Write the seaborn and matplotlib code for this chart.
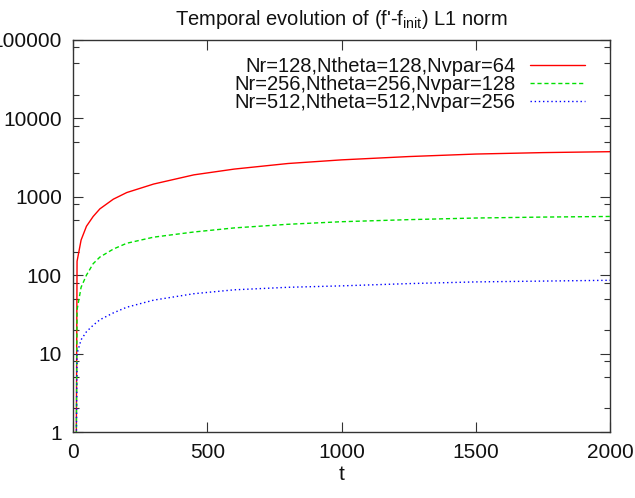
import numpy as np
import pandas as pd
import seaborn as sns
import matplotlib
matplotlib.use("Agg")
import matplotlib.pyplot as plt
from matplotlib.ticker import LogLocator, NullFormatter, FixedLocator

# values (log y axis)
t_values = [12, 15, 30, 50, 75, 100, 150, 200, 300, 450, 600, 800, 1000, 1250, 1500, 1750, 2000]
l1_128 = [0.5, 150, 280, 420, 560, 700, 930, 1130, 1450, 1900, 2250, 2650, 2950, 3250, 3500, 3650, 3750]
l1_256 = [0.5, 36, 70, 100, 140, 170, 215, 255, 305, 355, 400, 445, 480, 510, 535, 550, 560]
l1_512 = [0.5, 10, 15, 19, 23, 27, 33, 39, 48, 58, 65, 70, 73, 78, 82, 84, 86]

labels = ["Nr=128,Ntheta=128,Nvpar=64",
          "Nr=256,Ntheta=256,Nvpar=128",
          "Nr=512,Ntheta=512,Nvpar=256"]
colors = ["#ff0000", "#00e000", "#0000ff"]
styles = ["-", (0, (3, 2)), (0, (1, 2))]

y_ticks = [1, 10, 100, 1000, 10000, 100000]
x_ticks = [0, 500, 1000, 1500, 2000]

sns.set_style("ticks")
plt.rcParams['font.family'] = ['Liberation Sans', 'DejaVu Sans']
plt.rcParams['mathtext.default'] = 'regular'

fig = plt.figure(figsize=(6.35, 4.98), dpi=100)
ax = fig.add_axes([0.115, 0.1325, 0.846, 0.7875])

for vals, lab, col, ls in zip([l1_128, l1_256, l1_512], labels, colors, styles):
    df = pd.DataFrame({"t": t_values, "norm": vals})
    sns.lineplot(data=df, x="t", y="norm", ax=ax, color=col, linestyle=ls,
                 linewidth=1.0, label=lab, sort=False)

ax.set_yscale("log")
ax.set_xlim(0, 2000)
ax.set_ylim(1, 100000)
ax.yaxis.set_major_locator(FixedLocator(y_ticks))
ax.set_yticklabels([str(v) for v in y_ticks])
ax.yaxis.set_minor_locator(LogLocator(base=10, subs=(2, 5, 8)))
ax.yaxis.set_minor_formatter(NullFormatter())
ax.set_xticks(x_ticks)
ax.set_xticklabels([str(v) for v in x_ticks])

ax.tick_params(which="both", direction="in", top=True, right=True,
               labelsize=15, color="#333333", labelcolor="#111111")
ax.tick_params(which="major", length=7, width=0.8, pad=8)
ax.tick_params(which="minor", length=4, width=0.8)
for sp in ax.spines.values():
    sp.set_color("#333333")
    sp.set_linewidth(1.0)

ax.set_xlabel("t", fontsize=15, labelpad=2, color="#111111")
ax.set_ylabel("")
ax.set_title("Temporal evolution of (f'-f$_{init}$) L1 norm", fontsize=14.5,
             pad=11, color="#111111")

leg = ax.legend(loc="upper right", bbox_to_anchor=(0.975, 0.987), frameon=False,
                markerfirst=False, fontsize=14.5, handlelength=2.7,
                handletextpad=0.75, labelspacing=-0.04, borderaxespad=0.2)
for txt in leg.get_texts():
    txt.set_color("#111111")

fig.savefig("out.png", dpi=100)
